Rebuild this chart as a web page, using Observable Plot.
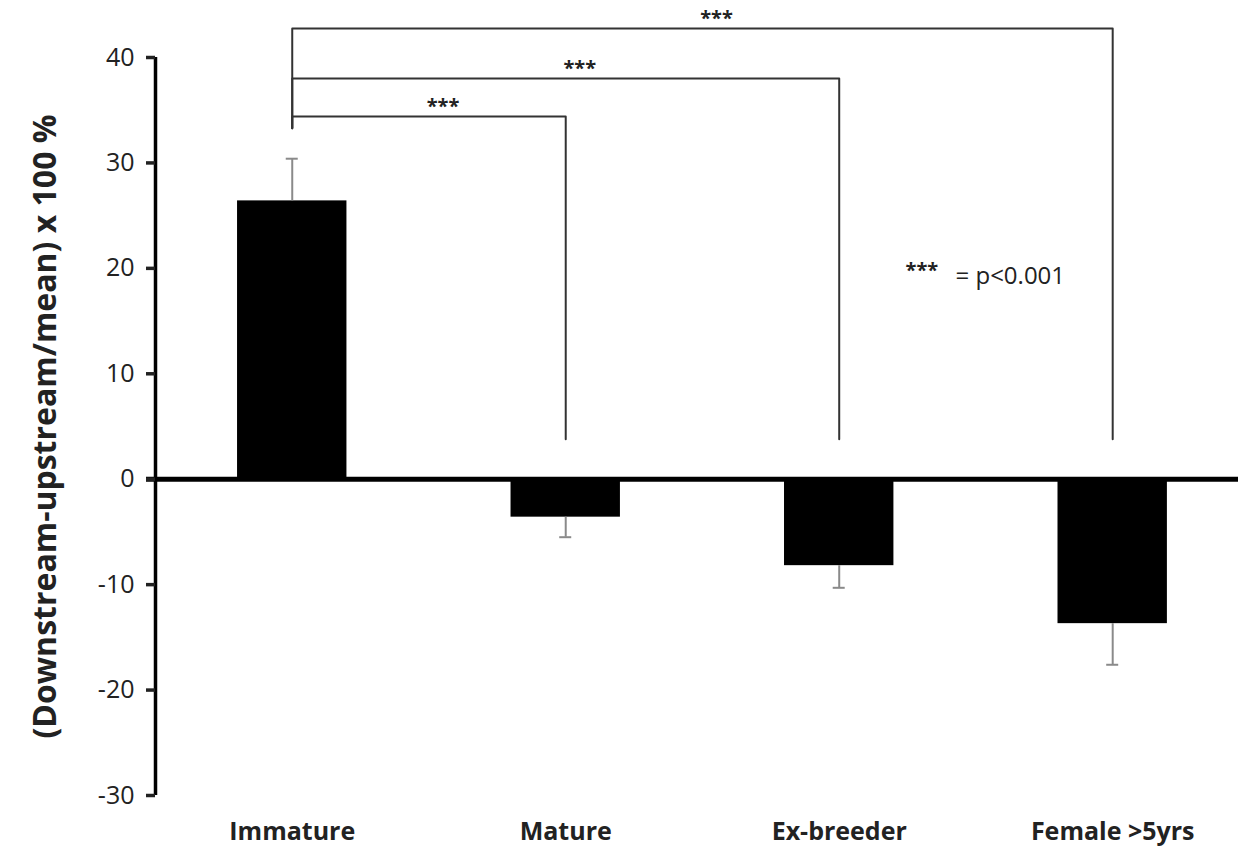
<!DOCTYPE html>
<html>
<head>
<meta charset="utf-8">
<script src="https://cdn.jsdelivr.net/npm/d3@7"></script>
<script src="https://cdn.jsdelivr.net/npm/@observablehq/plot@0.6"></script>
<style>
  html, body { margin: 0; padding: 0; background: #fff; }
  #chart svg { display: block; }
  g[aria-label="x-axis tick label"] text { font-weight: bold; }
</style>
</head>
<body>
<div id="chart"></div>
<script>
// ---- data ----
const categories = ["Immature", "Mature", "Ex-breeder", "Female >5yrs"];
const means = [26.4, -3.6, -8.2, -13.7];
const sems = [4.0, 1.9, 2.1, 3.9];
const yTicks = [-30, -20, -10, 0, 10, 20, 30, 40];
const yLabel = "(Downstream-upstream/mean) x 100 %";
// significance brackets: Immature vs each other group
const bracketFrom = "Immature";
const bracketTargets = ["Mature", "Ex-breeder", "Female >5yrs"];
const bracketLevels = [34.4, 38.0, 42.75];
const bracketFootRight = 3.8;
const bracketFootLeft = 33.3;
const starLabel = "***";
const legendStars = "***";
const legendText = "= p<0.001";

// ---- tables built from the arrays ----
const bars = categories.map((c, i) => ({
  i, c, mean: means[i],
  end: means[i] + Math.sign(means[i]) * sems[i]
}));
const fromIdx = categories.indexOf(bracketFrom);
const bracketPts = [];
bracketTargets.forEach((t, k) => {
  const ti = categories.indexOf(t);
  bracketPts.push({k, x: fromIdx, y: bracketFootLeft});
  bracketPts.push({k, x: fromIdx, y: bracketLevels[k]});
  bracketPts.push({k, x: ti, y: bracketLevels[k]});
  bracketPts.push({k, x: ti, y: bracketFootRight});
});
const stars = bracketTargets.map((t, k) => ({
  x: (fromIdx + categories.indexOf(t)) / 2,
  y: bracketLevels[k]
}));

const barHalf = 0.2;
const font = "'Open Sans', 'DejaVu Sans', sans-serif";

const chart = Plot.plot({
  width: 1238,
  height: 849,
  marginLeft: 155,
  marginRight: 0,
  marginTop: 57,
  marginBottom: 54,
  style: {fontFamily: font, color: "#222", background: "#fff"},
  x: {type: "linear", domain: [-0.5, 3.46]},
  y: {domain: [-30, 40]},
  marks: [
    // bars
    Plot.rectY(bars, {x1: d => d.i - barHalf, x2: d => d.i + barHalf, y1: 0, y2: "mean", fill: "#000"}),
    // error bars (one-sided)
    Plot.ruleX(bars, {x: "i", y1: "mean", y2: "end", stroke: "#8a8a8a", strokeWidth: 2}),
    Plot.ruleY(bars, {y: "end", x1: "i", x2: "i", insetLeft: -6, insetRight: -6, stroke: "#8a8a8a", strokeWidth: 2}),
    // zero line
    Plot.ruleY([0], {stroke: "#000", strokeWidth: 5, insetLeft: -9}),
    // y axis line
    Plot.ruleX([-0.5], {y1: yTicks[0], y2: yTicks[yTicks.length - 1], stroke: "#000", strokeWidth: 3.5}),
    // brackets
    Plot.line(bracketPts, {x: "x", y: "y", z: "k", stroke: "#333", strokeWidth: 2}),
    Plot.text(stars, {x: "x", y: "y", text: () => starLabel, dx: 14, dy: -4, lineAnchor: "bottom",
      fontSize: 20, fontWeight: "bold", fill: "#222"}),
    // legend note
    Plot.text([legendStars], {frameAnchor: "top-right", dx: -333, dy: 205, textAnchor: "start",
      fontSize: 20, fontWeight: "bold", fill: "#222"}),
    Plot.text([legendText], {frameAnchor: "top-right", dx: -283, dy: 209, textAnchor: "start",
      fontSize: 24, fill: "#222"}),
    // axes
    Plot.axisY({ticks: yTicks, tickFormat: d => `${d}`, tickSize: 9, tickPadding: 12, fontSize: 25,
      strokeWidth: 3.5, label: null}),
    Plot.axisX({ticks: [0, 1, 2, 3], tickFormat: i => categories[i], tickSize: 0, tickPadding: 27,
      fontSize: 25, fontWeight: "bold", label: null}),
    Plot.text([yLabel], {frameAnchor: "left", textAnchor: "middle", rotate: -90, dx: -110,
      fontSize: 32, fontWeight: "bold", fill: "#222"})
  ]
});
document.getElementById("chart").appendChild(chart);
</script>
</body>
</html>
